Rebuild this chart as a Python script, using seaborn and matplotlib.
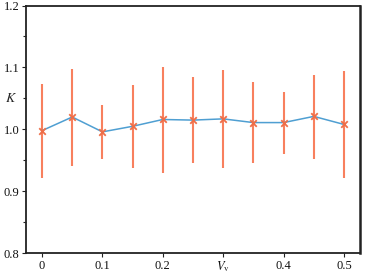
import numpy as np
import pandas as pd
import matplotlib
matplotlib.use("Agg")
import matplotlib.pyplot as plt
import seaborn as sns

# data
vv = [0.0, 0.05, 0.1, 0.15, 0.2, 0.25, 0.3, 0.35, 0.4, 0.45, 0.5]
k_mean = [0.998, 1.020, 0.996, 1.005, 1.016, 1.015, 1.017, 1.011, 1.011, 1.021, 1.008]
k_low = [0.921, 0.941, 0.953, 0.937, 0.930, 0.945, 0.937, 0.946, 0.961, 0.953, 0.921]
k_high = [1.073, 1.098, 1.039, 1.071, 1.100, 1.084, 1.096, 1.076, 1.060, 1.088, 1.094]
x_ticks = [0.0, 0.1, 0.2, 0.3, 0.4, 0.5]
x_ticklabels = ["0", "0.1", "0.2", r"$V_\mathrm{v}$", "0.4", "0.5"]
y_ticks = [0.8, 0.9, 1.0, 1.1, 1.2]
y_ticklabels = ["0.8", "0.9", "1.0", "1.1", "1.2"]

sns.set_style("ticks")
plt.rcParams["font.family"] = ["Liberation Serif", "DejaVu Serif"]
plt.rcParams["mathtext.fontset"] = "stix"

df = pd.DataFrame({"Vv": vv, "K": k_mean, "lo": k_low, "hi": k_high})

fig = plt.figure(figsize=(3.74, 2.76), dpi=100)
ax = fig.add_axes([26 / 374, 1 - 253.3 / 276, (360 - 26) / 374, (253.3 - 5.5) / 276])

err = np.vstack([df["K"] - df["lo"], df["hi"] - df["K"]])
ax.errorbar(df["Vv"], df["K"], yerr=err, fmt="none", ecolor="#f8805e",
            elinewidth=1.5, capsize=0, zorder=1)
sns.lineplot(data=df, x="Vv", y="K", ax=ax, color="#4f9fd2", linewidth=1.1, zorder=2)
sns.scatterplot(data=df, x="Vv", y="K", ax=ax, marker="x", color="#ee6e48",
                s=22, linewidth=1.3, zorder=3)

ax.set_xlim(-0.0265, 0.5265)
ax.set_ylim(0.8, 1.2)
ax.set_xticks(x_ticks)
ax.set_xticklabels(x_ticklabels)
ax.set_yticks(y_ticks)
ax.set_yticklabels(y_ticklabels)
ax.set_yticks([0.85, 0.95, 1.05, 1.15], minor=True)
ax.tick_params(axis="both", which="major", labelsize=9, length=3, width=0.8,
               pad=1.5, colors="#222222", labelcolor="#111111")
ax.tick_params(axis="y", which="minor", length=2, width=0.8, colors="#222222")
ax.set_xlabel("")
ax.set_ylabel("")
ax.text(-0.045, 0.625, "$K$", transform=ax.transAxes, fontsize=10,
        ha="center", va="center")

for name, s in ax.spines.items():
    s.set_visible(True)
    s.set_linewidth(1.8 if name == "right" else 1.3)
    s.set_color("#222222")

fig.savefig("out.png", dpi=100)
